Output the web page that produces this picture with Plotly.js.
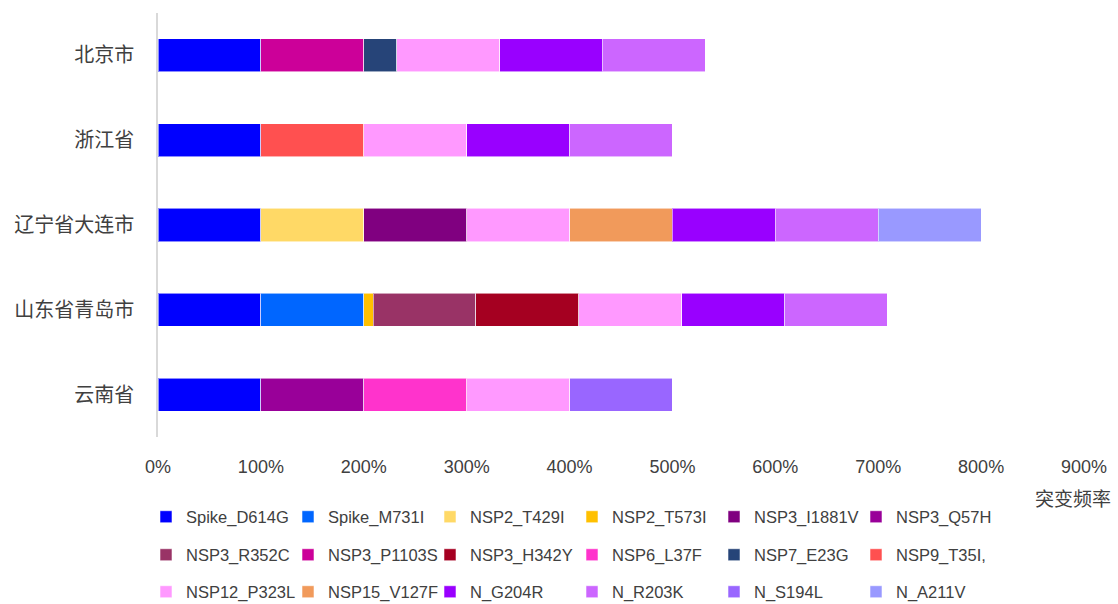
<!DOCTYPE html>
<html>
<head>
<meta charset="utf-8">
<script src="https://cdn.plot.ly/plotly-3.0.1.min.js"></script>
<style>html,body{margin:0;padding:0;background:#fff;}#chart{width:1118px;height:604px;}</style>
</head>
<body>
<div id="chart"></div>
<script>
// Categories, top to bottom
const categories = ["北京市", "浙江省", "辽宁省大连市", "山东省青岛市", "云南省"];

// Series names (legend order)
const seriesNames = [
  "Spike_D614G", "Spike_M731I", "NSP2_T429I", "NSP2_T573I", "NSP3_I1881V", "NSP3_Q57H",
  "NSP3_R352C", "NSP3_P1103S", "NSP3_H342Y", "NSP6_L37F", "NSP7_E23G", "NSP9_T35I,",
  "NSP12_P323L", "NSP15_V127F", "N_G204R", "N_R203K", "N_S194L", "N_A211V"
];

// Mutation frequency (%) per category: [北京市, 浙江省, 辽宁省大连市, 山东省青岛市, 云南省]
const spike_D614G = [100, 100, 100, 100, 100];
const spike_M731I = [null, null, null, 100, null];
const nsp2_T429I  = [null, null, 100, null, null];
const nsp2_T573I  = [null, null, null, 9, null];
const nsp3_I1881V = [null, null, 100, null, null];
const nsp3_Q57H   = [null, null, null, null, 100];
const nsp3_R352C  = [null, null, null, 100, null];
const nsp3_P1103S = [100, null, null, null, null];
const nsp3_H342Y  = [null, null, null, 100, null];
const nsp6_L37F   = [null, null, null, null, 100];
const nsp7_E23G   = [32, null, null, null, null];
const nsp9_T35I   = [null, 100, null, null, null];
const nsp12_P323L = [100, 100, 100, 100, 100];
const nsp15_V127F = [null, null, 100, null, null];
const n_G204R     = [100, 100, 100, 100, null];
const n_R203K     = [100, 100, 100, 100, null];
const n_S194L     = [null, null, null, null, 100];
const n_A211V     = [null, null, 100, null, null];

// Stacking order within bars
const seriesValues = [
  spike_D614G, spike_M731I, nsp2_T429I, nsp2_T573I, nsp3_I1881V, nsp3_Q57H,
  nsp3_R352C, nsp3_P1103S, nsp3_H342Y, nsp6_L37F, nsp7_E23G, nsp9_T35I,
  nsp12_P323L, nsp15_V127F, n_G204R, n_R203K, n_S194L, n_A211V
];

const seriesColors = [
  "#0000FF", "#0066FF", "#FFD966", "#FFC000", "#800080", "#990099",
  "#993366", "#CC0099", "#A50021", "#FF33CC", "#264478", "#FF5050",
  "#FF99FF", "#F19A5B", "#9900FF", "#CC66FF", "#9966FF", "#9999FF"
];

const xTickVals = [0, 100, 200, 300, 400, 500, 600, 700, 800, 900];
const xTickText = ["0%", "100%", "200%", "300%", "400%", "500%", "600%", "700%", "800%", "900%"];
const axisTitle = "突变频率";

const legendIds = ["legend", "legend2", "legend3"];

const traces = seriesNames.map((name, i) => ({
  type: "bar",
  orientation: "h",
  name: name,
  y: categories,
  x: seriesValues[i],
  marker: { color: seriesColors[i], line: { color: "rgba(255,255,255,0.55)", width: 1 } },
  legend: legendIds[Math.floor(i / 6)],
  hoverinfo: "x+name"
}));

const legendFont = { family: "Liberation Sans, Arial, sans-serif", size: 16.5, color: "#404040" };
const rowY = [517, 555, 592];
function makeLegend(row) {
  return {
    orientation: "h",
    xref: "container", yref: "container",
    x: 146 / 1118, y: 1 - rowY[row] / 604,
    xanchor: "left", yanchor: "middle",
    font: legendFont,
    entrywidth: 97,
    traceorder: "normal",
    bgcolor: "rgba(0,0,0,0)",
    itemclick: false, itemdoubleclick: false
  };
}

const layout = {
  width: 1118, height: 604,
  margin: { l: 158, r: 34, t: 13, b: 167 },
  paper_bgcolor: "#ffffff",
  plot_bgcolor: "#ffffff",
  barmode: "stack",
  bargap: 0.61,
  showlegend: true,
  legend: makeLegend(0),
  legend2: makeLegend(1),
  legend3: makeLegend(2),
  xaxis: {
    range: [0, 900],
    tickvals: xTickVals,
    ticktext: xTickText,
    showgrid: false, zeroline: false, showline: false,
    ticks: "",
    ticklabelstandoff: 17,
    tickfont: { family: "Liberation Sans, Arial, sans-serif", size: 18, color: "#404040" }
  },
  yaxis: {
    type: "category",
    autorange: "reversed",
    showgrid: false, zeroline: false,
    showline: true, linecolor: "#D9D9D9", linewidth: 1.5,
    ticks: "",
    ticklabelstandoff: 18,
    tickfont: { family: "Noto Sans CJK SC, sans-serif", size: 20, color: "#404040" }
  },
  annotations: [{
    text: axisTitle,
    xref: "paper", yref: "paper",
    x: 0.988, y: (437 - 497) / 424,
    xanchor: "center", yanchor: "middle",
    showarrow: false,
    font: { family: "Noto Sans CJK SC, sans-serif", size: 19, color: "#404040" }
  }]
};

Plotly.newPlot("chart", traces, layout, { displayModeBar: false, staticPlot: false });
</script>
</body>
</html>
